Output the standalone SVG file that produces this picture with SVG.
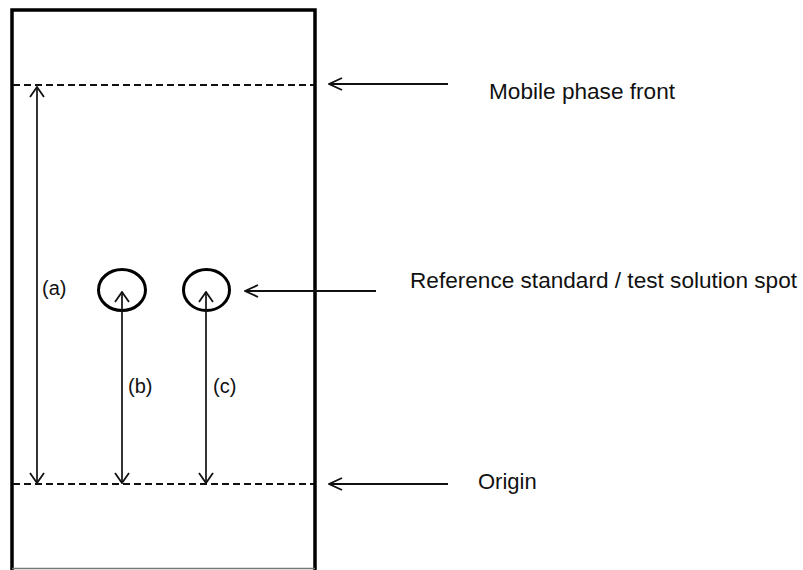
<svg xmlns="http://www.w3.org/2000/svg" width="803" height="570" viewBox="0 0 803 570">
<style>
.plate{fill:none;stroke:#000;stroke-width:3.5}
.dash{stroke:#111;stroke-width:2;stroke-dasharray:7,4;fill:none}
.line{stroke:#111;stroke-width:1.7;fill:none}
.ptr{stroke:#111;stroke-width:1.8;fill:none}
.spot{fill:none;stroke:#000;stroke-width:3}
.lbl{font-family:"Liberation Sans",Arial,sans-serif;font-size:22px;fill:#111}
.sm{font-family:"Liberation Sans",Arial,sans-serif;font-size:20px;fill:#111}
</style>
<defs>
<marker id="ah" viewBox="0 0 12 16" refX="11" refY="8" markerWidth="12" markerHeight="16" markerUnits="userSpaceOnUse" orient="auto-start-reverse">
<path d="M1,1 L11,8 L1,15" fill="none" stroke="#111" stroke-width="1.8"/>
</marker>
<marker id="ph" viewBox="0 0 15 14" refX="14" refY="7" markerWidth="15" markerHeight="14" markerUnits="userSpaceOnUse" orient="auto">
<path d="M1,1 L14,7 L1,13" fill="none" stroke="#111" stroke-width="1.9"/>
</marker>
</defs>
<rect width="803" height="570" fill="#fff"/>
<g id="plate">
<path class="plate" d="M12,575 L12,10 L315,10 L315,575"/>
<line x1="12" y1="568.5" x2="315" y2="568.5" stroke="#777" stroke-width="1.5"/>
</g>
<g id="front-line"><line class="dash" x1="13" y1="85" x2="314" y2="85"/></g>
<g id="origin-line"><line class="dash" x1="13" y1="484" x2="314" y2="484"/></g>
<g id="spot1"><ellipse class="spot" cx="122" cy="290" rx="23.5" ry="20.5"/></g>
<g id="spot2"><ellipse class="spot" cx="206.5" cy="290" rx="23" ry="20.5"/></g>
<g id="connectors">
<line class="line" x1="37" y1="87" x2="37" y2="483" marker-start="url(#ah)" marker-end="url(#ah)"/>
<line class="line" x1="122" y1="292" x2="122" y2="483" marker-start="url(#ah)" marker-end="url(#ah)"/>
<line class="line" x1="206" y1="292" x2="206" y2="483" marker-start="url(#ah)" marker-end="url(#ah)"/>
<line class="ptr" x1="448" y1="84" x2="329" y2="84" marker-end="url(#ph)"/>
<line class="ptr" x1="376" y1="291" x2="245" y2="291" marker-end="url(#ph)"/>
<line class="ptr" x1="448" y1="484" x2="329" y2="484" marker-end="url(#ph)"/>
</g>
<g id="labels">
<text class="sm" x="42" y="295">(a)</text>
<text class="sm" x="128" y="393">(b)</text>
<text class="sm" x="213" y="393">(c)</text>
<text class="lbl" x="489" y="99" textLength="186" lengthAdjust="spacingAndGlyphs">Mobile phase front</text>
<text class="lbl" x="410" y="288" textLength="387" lengthAdjust="spacingAndGlyphs">Reference standard / test solution spot</text>
<text class="lbl" x="478" y="489">Origin</text>
</g>
</svg>
